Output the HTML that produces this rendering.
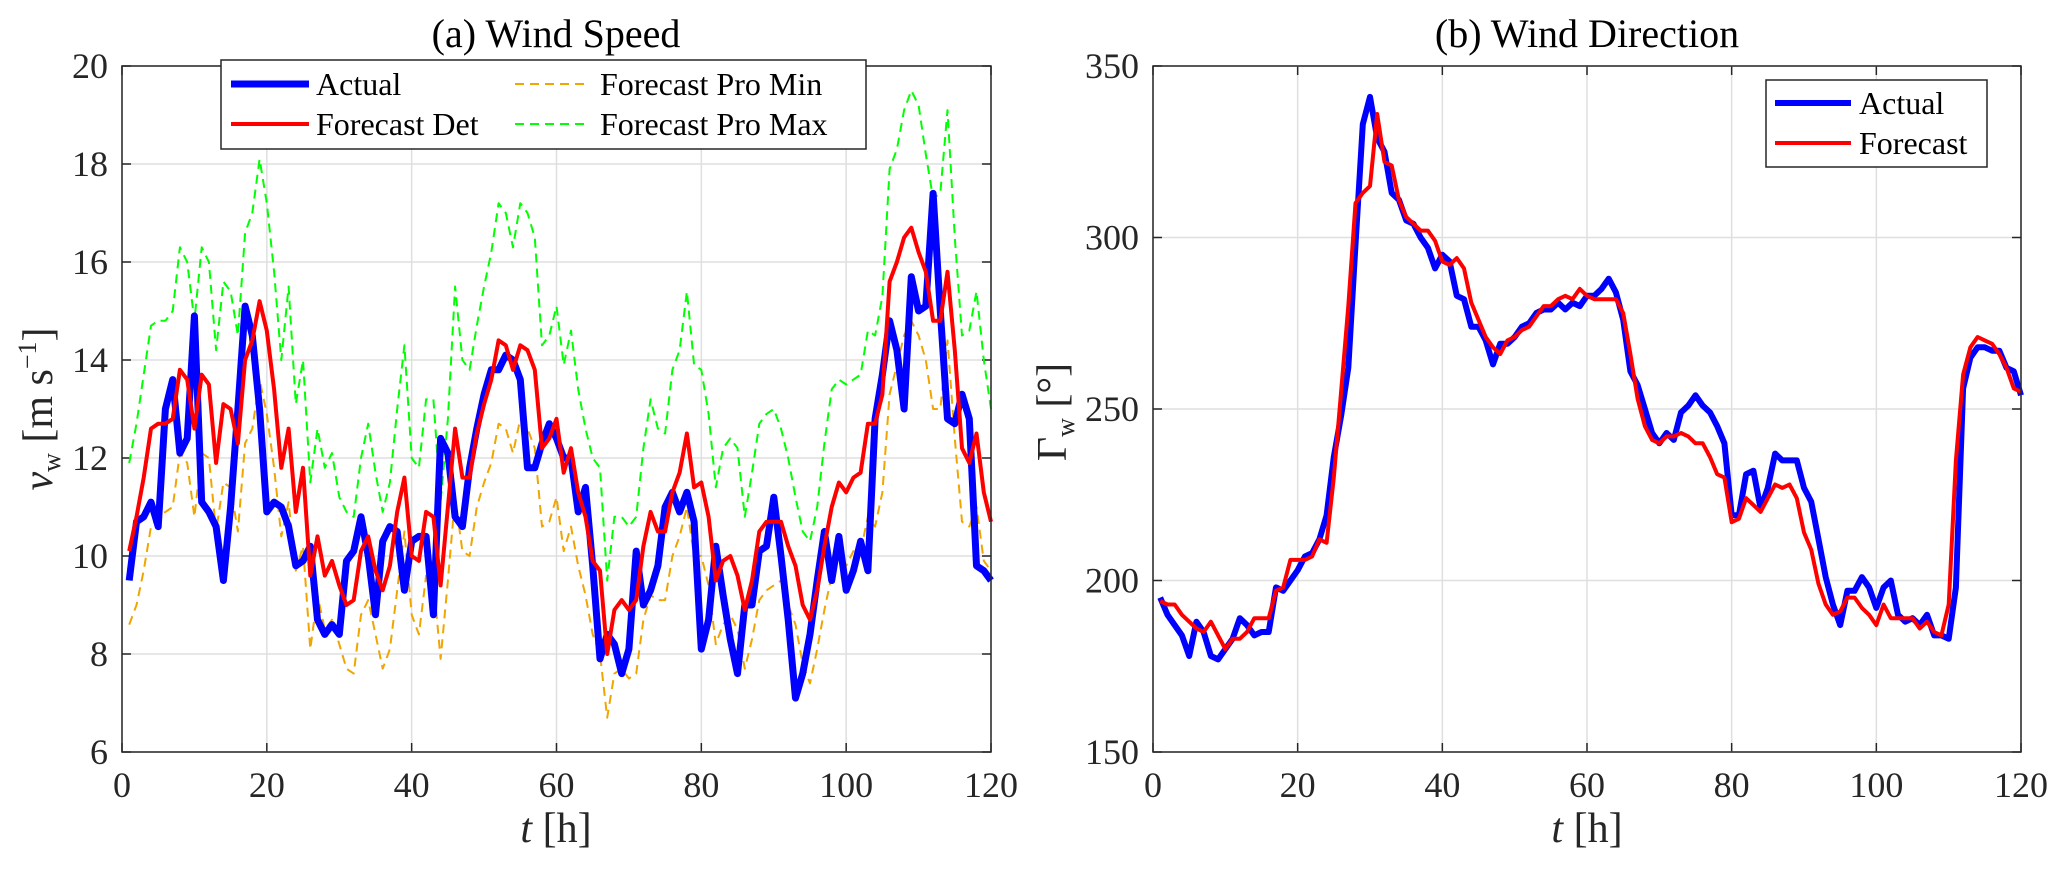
<!DOCTYPE html>
<html><head><meta charset="utf-8"><style>
html,body{margin:0;padding:0;background:#fff;}
svg{display:block;font-family:"Liberation Serif",serif;}
</style></head><body>
<svg id="fig" width="2067" height="875" viewBox="0 0 2067 875" xmlns="http://www.w3.org/2000/svg"></svg>
<script>
const speedTicksY=[6,8,10,12,14,16,18,20];
const dirTicksY=[150,200,250,300,350];
const ticksX=[0,20,40,60,80,100,120];
const speedActual=[9.5,10.7,10.8,11.1,10.6,13.0,13.6,12.1,12.4,14.9,11.1,10.9,10.6,9.5,11.0,13.0,15.1,14.5,13.0,10.9,11.1,11.0,10.6,9.8,9.9,10.2,8.7,8.4,8.6,8.4,9.9,10.1,10.8,10.0,8.8,10.3,10.6,10.5,9.3,10.3,10.4,10.4,8.8,12.4,12.1,10.8,10.6,11.8,12.6,13.3,13.8,13.8,14.1,14.0,13.6,11.8,11.8,12.3,12.7,12.4,12.0,12.0,10.9,11.4,9.8,7.9,8.4,8.2,7.6,8.1,10.1,9.0,9.3,9.8,11.0,11.3,10.9,11.3,10.7,8.1,8.7,10.2,9.2,8.3,7.6,9.0,9.0,10.1,10.2,11.2,10.0,8.7,7.1,7.6,8.4,9.5,10.5,9.5,10.4,9.3,9.7,10.3,9.7,12.8,13.7,14.8,14.2,13.0,15.7,15.0,15.1,17.4,15.0,12.8,12.7,13.3,12.8,9.8,9.7,9.5];
const speedDet=[10.1,10.8,11.6,12.6,12.7,12.7,12.8,13.8,13.6,12.6,13.7,13.5,11.9,13.1,13.0,12.3,14.0,14.4,15.2,14.6,13.4,11.8,12.6,10.9,11.8,9.6,10.4,9.6,9.9,9.4,9.0,9.1,10.1,10.4,9.7,9.3,9.8,10.9,11.6,10.0,9.9,10.9,10.8,9.4,11.0,12.6,11.6,11.6,12.5,13.1,13.6,14.4,14.3,13.8,14.3,14.2,13.8,12.2,12.4,12.8,11.7,12.2,11.3,10.8,9.9,9.7,8.0,8.9,9.1,8.9,9.1,10.2,10.9,10.5,10.5,11.3,11.7,12.5,11.4,11.5,10.8,9.5,9.9,10.0,9.6,8.9,9.5,10.5,10.7,10.7,10.7,10.2,9.8,9.0,8.7,9.3,10.2,11.0,11.5,11.3,11.6,11.7,12.7,12.7,13.3,15.6,16.0,16.5,16.7,16.2,15.8,14.8,14.8,15.8,14.2,12.2,11.9,12.5,11.3,10.7];
const speedProMin=[8.6,9.0,9.7,10.6,10.8,10.9,11.0,12.1,11.9,10.8,12.1,12.0,10.5,11.5,11.4,10.5,12.3,12.6,13.6,12.9,11.8,10.4,11.1,9.7,10.2,8.1,9.2,8.5,8.7,8.2,7.7,7.6,8.8,9.1,8.4,7.7,8.1,9.3,10.5,8.8,8.4,9.6,9.5,7.9,9.5,11.2,10.1,10.0,11.0,11.5,11.9,12.7,12.6,12.1,12.8,12.6,12.2,10.6,10.7,11.2,10.1,10.6,9.8,9.2,8.4,8.0,6.7,7.6,7.7,7.5,7.6,8.7,9.2,9.1,9.1,10.0,10.4,11.0,10.0,10.0,9.4,8.2,8.6,8.8,8.5,7.7,8.3,9.1,9.3,9.4,9.5,9.0,8.6,7.8,7.4,8.1,8.9,9.6,10.1,9.8,10.1,10.1,10.8,10.6,11.3,13.3,13.9,14.5,14.8,14.5,14.0,13.0,13.0,14.4,12.4,10.7,10.6,11.0,9.9,9.7];
const speedProMax=[11.9,12.7,13.7,14.7,14.8,14.8,15.0,16.3,16.0,14.8,16.3,16.0,14.2,15.6,15.4,14.5,16.6,17.0,18.1,17.2,15.8,14.0,15.5,13.1,14.0,11.5,12.6,11.8,12.1,11.2,10.9,10.8,12.0,12.7,11.7,10.9,11.5,13.0,14.3,12.0,11.8,13.2,13.2,11.1,12.8,15.5,14.0,13.8,14.7,15.5,16.2,17.2,17.0,16.3,17.2,17.0,16.5,14.3,14.5,15.1,13.9,14.6,13.4,12.6,12.0,11.8,9.5,10.8,10.8,10.6,10.8,12.2,13.2,12.6,12.5,13.8,14.2,15.4,13.9,13.8,12.9,11.4,12.2,12.4,12.2,10.8,11.7,12.7,12.9,13.0,12.6,12.0,11.2,10.5,10.3,11.0,12.3,13.4,13.6,13.5,13.6,13.7,14.6,14.5,15.3,17.9,18.3,19.1,19.5,19.2,18.2,17.3,17.4,19.1,16.5,14.5,14.6,15.4,14.0,13.0];
const dirActual=[195,190,187,184,178,188,185,178,177,180,183,189,187,184,185,185,198,197,200,203,207,208,212,219,236,248,262,298,333,341,329,325,313,311,305,304,300,297,291,295,293,283,282,274,274,270,263,269,269,271,274,275,278,279,279,281,279,281,280,283,283,285,288,284,276,261,257,250,243,240,243,241,249,251,254,251,249,245,240,219,219,231,232,221,227,237,235,235,235,227,223,212,201,193,187,197,197,201,198,192,198,200,190,188,189,187,190,184,184,183,198,256,265,268,268,267,267,262,261,254];
const dirForecast=[194,193,193,190,188,186,185,188,184,180,183,183,185,189,189,189,197,198,206,206,206,207,212,211,230,255,280,310,313,315,336,322,321,311,306,304,302,302,299,293,292,294,291,281,276,271,268,266,270,271,273,274,277,280,280,282,283,282,285,283,282,282,282,282,278,266,253,245,241,240,242,242,243,242,240,240,236,231,230,217,218,224,222,220,224,228,227,228,224,214,209,199,193,190,191,195,195,192,190,187,193,189,189,189,189,186,188,185,184,193,235,260,268,271,270,269,266,262,256,255];

const NS='http://www.w3.org/2000/svg';
const svg=document.getElementById('fig');
function mk(tag,attrs,parent){const e=document.createElementNS(NS,tag);for(const k in attrs)e.setAttribute(k,attrs[k]);(parent||svg).appendChild(e);return e;}

function axes(cfg){
  const g=mk('g',{});
  
  
  const L=cfg.L,R=cfg.R,T=66,B=752;
  const sx=v=>L+(v-0)/120*(R-L);
  const sy=v=>B-(v-cfg.ymin)/(cfg.ymax-cfg.ymin)*(B-T);
  mk('rect',{x:L,y:T,width:R-L,height:B-T,fill:'#fff'},g);
  ticksX.forEach(v=>{
    const gl=mk('line',{x1:sx(v),x2:sx(v),y1:T,y2:B,stroke:'#dfdfdf','stroke-width':1.5},g);
    
    
    mk('line',{x1:sx(v),x2:sx(v),y1:B,y2:B-9,stroke:'#262626','stroke-width':1.5},g);
    mk('line',{x1:sx(v),x2:sx(v),y1:T,y2:T+9,stroke:'#262626','stroke-width':1.5},g);
    const t=mk('text',{x:sx(v),y:797,'text-anchor':'middle','font-size':36,fill:'#262626'},g);
    t.textContent=v;
    
    
  });
  cfg.yt.forEach(v=>{
    const gl=mk('line',{x1:L,x2:R,y1:sy(v),y2:sy(v),stroke:'#dfdfdf','stroke-width':1.5},g);
    
    
    mk('line',{x1:L,x2:L+9,y1:sy(v),y2:sy(v),stroke:'#262626','stroke-width':1.5},g);
    mk('line',{x1:R,x2:R-9,y1:sy(v),y2:sy(v),stroke:'#262626','stroke-width':1.5},g);
    const t=mk('text',{x:L-14,y:sy(v)+12,'text-anchor':'end','font-size':36,fill:'#262626'},g);
    t.textContent=v;
    
    
  });
  cfg.series.forEach(s=>{
    const pts=s.data.map((v,i)=>sx(i+1).toFixed(1)+','+sy(v).toFixed(1)).join(' ');
    const a={points:pts,fill:'none',stroke:s.color,'stroke-width':s.w,'stroke-linejoin':'round'};
    if(s.dash)a['stroke-dasharray']=s.dash;
    const p=mk('polyline',a,g);
    
    
  });
  mk('rect',{x:L,y:T,width:R-L,height:B-T,fill:'none',stroke:'#262626','stroke-width':1.5},g);
  return g;
}

axes({name:'wind-speed-axes',L:122,R:991,ymin:6,ymax:20,yt:speedTicksY,series:[
  {name:'pro-min-line',data:speedProMin,color:'#f0a500',w:2,dash:'9,6'},
  {name:'pro-max-line',data:speedProMax,color:'#00ff00',w:2,dash:'9,6'},
  {name:'actual-speed-line',data:speedActual,color:'#0000ff',w:7},
  {name:'forecast-det-line',data:speedDet,color:'#ff0000',w:4}
]});
axes({name:'wind-direction-axes',L:1153,R:2021,ymin:150,ymax:350,yt:dirTicksY,series:[
  {name:'actual-direction-line',data:dirActual,color:'#0000ff',w:6},
  {name:'forecast-direction-line',data:dirForecast,color:'#ff0000',w:4}
]});
</script>
<svg style="position:absolute;left:0;top:0" width="2067" height="875" xmlns="http://www.w3.org/2000/svg">
  <text x="556" y="47" text-anchor="middle" font-size="40" fill="#000">(a) Wind Speed</text>
  <text x="1587" y="47" text-anchor="middle" font-size="40" fill="#000">(b) Wind Direction</text>
  <text x="556" y="842" text-anchor="middle" font-size="42" fill="#262626"><tspan font-style="italic">t</tspan> [h]</text>
  <text x="1587" y="842" text-anchor="middle" font-size="42" fill="#262626"><tspan font-style="italic">t</tspan> [h]</text>
  <text transform="translate(52,409) rotate(-90)" text-anchor="middle" font-size="42" fill="#262626"><tspan font-style="italic">v</tspan><tspan font-size="26" dy="8">w</tspan><tspan dy="-8"> [m s</tspan><tspan font-size="26" dy="-16">−1</tspan><tspan dy="16">]</tspan></text>
  <text transform="translate(1066,412) rotate(-90)" text-anchor="middle" font-size="42" fill="#262626">Γ<tspan font-size="26" dy="8">w</tspan><tspan dy="-8"> [°]</tspan></text>
  <g>
    <rect x="221" y="60" width="645" height="89" fill="#fff" stroke="#262626" stroke-width="1.5"/>
    <line x1="231" y1="84" x2="309" y2="84" stroke="#0000ff" stroke-width="7"/>
    <text x="316" y="95" font-size="32">Actual</text>
    <line x1="231" y1="124" x2="309" y2="124" stroke="#ff0000" stroke-width="4"/>
    <text x="316" y="135" font-size="32">Forecast Det</text>
    <line x1="515" y1="84" x2="588" y2="84" stroke="#f0a500" stroke-width="2" stroke-dasharray="9,6"/>
    <text x="600" y="95" font-size="32">Forecast Pro Min</text>
    <line x1="515" y1="124" x2="588" y2="124" stroke="#00ff00" stroke-width="2" stroke-dasharray="9,6"/>
    <text x="600" y="135" font-size="32">Forecast Pro Max</text>
  </g>
  <g>
    <rect x="1766" y="80" width="221" height="87" fill="#fff" stroke="#262626" stroke-width="1.5"/>
    <line x1="1775" y1="103" x2="1851" y2="103" stroke="#0000ff" stroke-width="6"/>
    <text x="1859" y="114" font-size="32">Actual</text>
    <line x1="1775" y1="143" x2="1851" y2="143" stroke="#ff0000" stroke-width="4"/>
    <text x="1859" y="154" font-size="32">Forecast</text>
  </g>
</svg>
</body></html>
